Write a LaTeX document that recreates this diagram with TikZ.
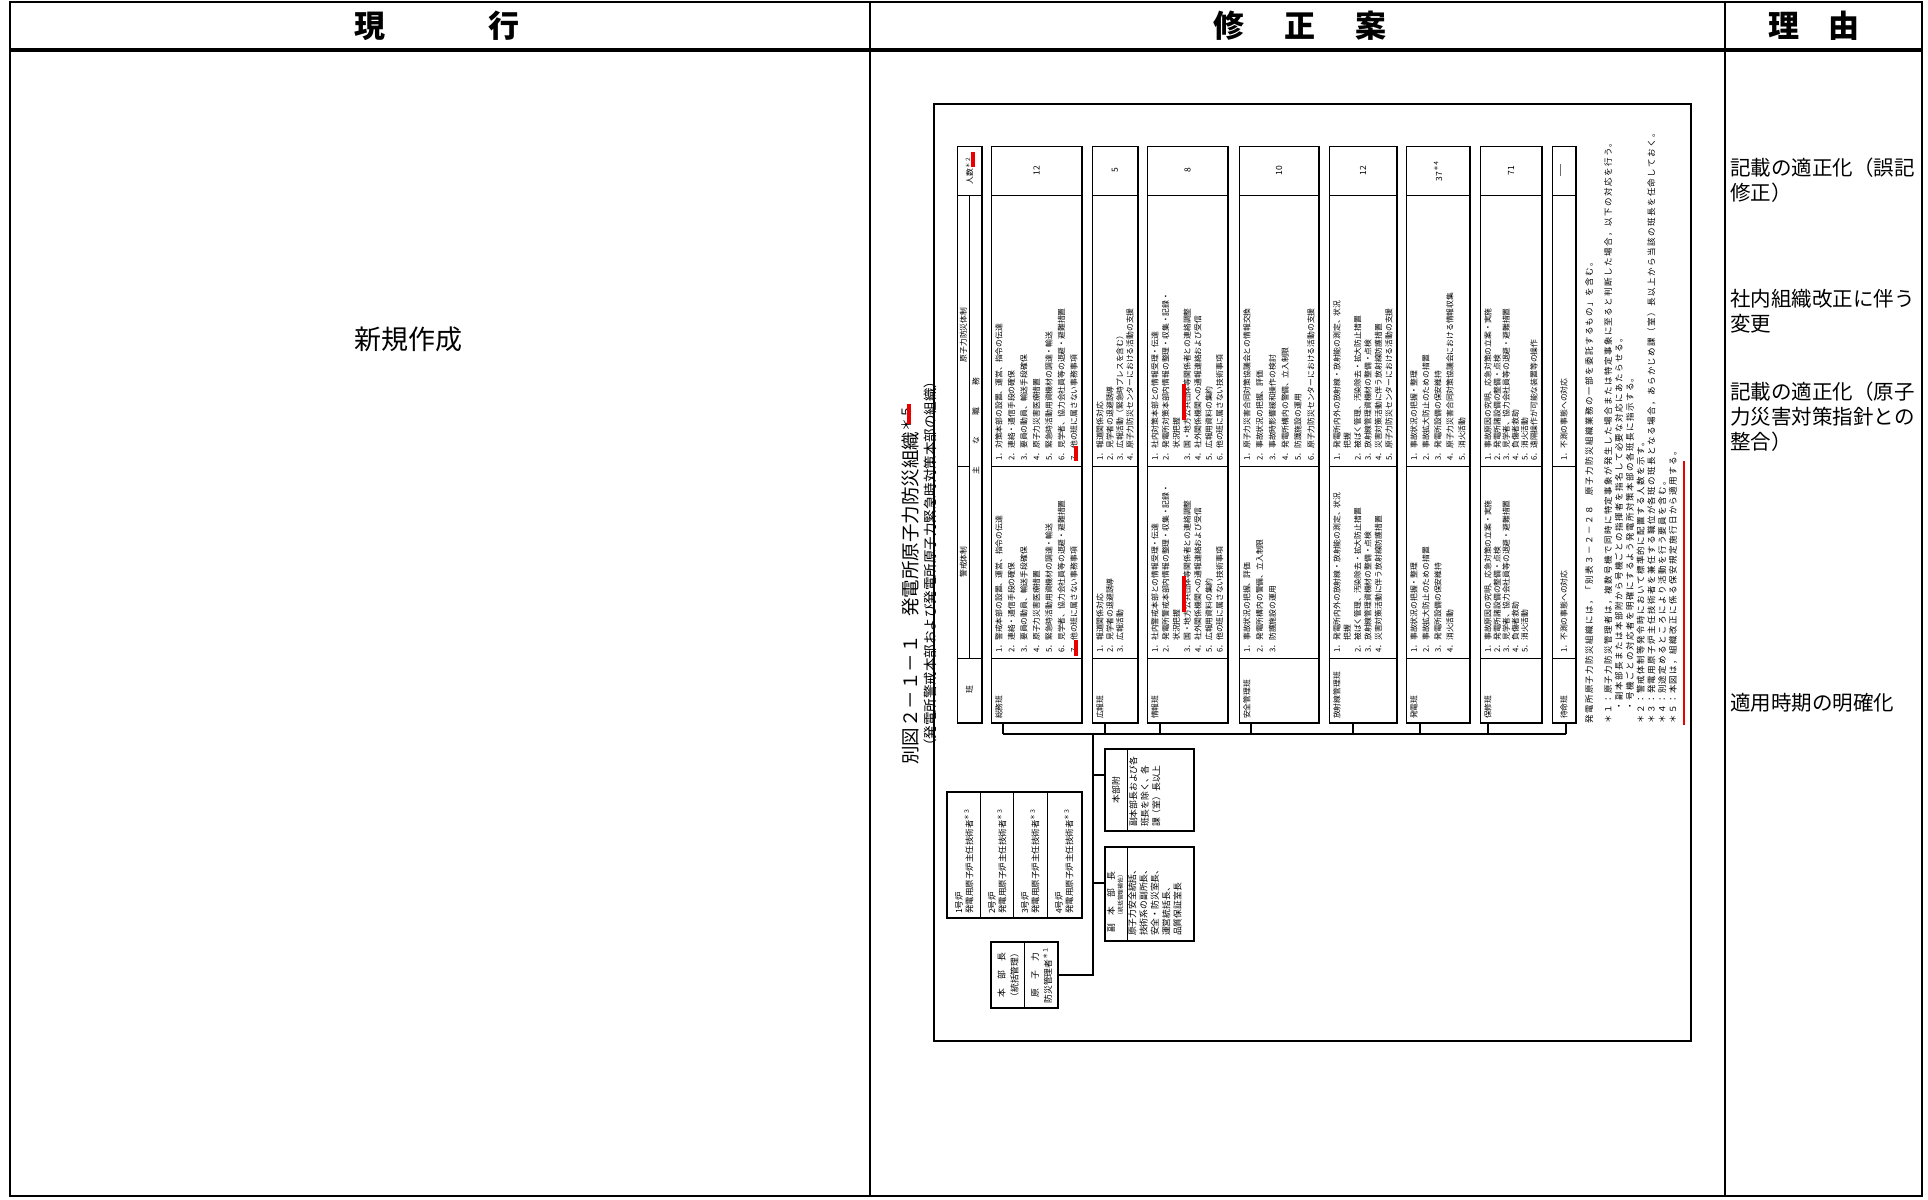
\documentclass[tikz,border=0pt]{standalone}
\usepackage{fontspec}
\setmainfont{Noto Sans CJK JP}
\newfontfamily\notefont{Noto Sans CJK JP}[LetterSpace=17]
\definecolor{mk}{RGB}{235,0,0}
\newcommand{\hanrow}[9]{%
  \node[rowbox, minimum width={(#3-#2)*1bp}, minimum height=577bp] (#1) at ({(#2+#3)/2},434.5) {};
  \draw[cellln] (#2,195) -- (#3,195) (#2,466) -- (#3,466) (#2,658) -- (#3,658);
  \draw[shadowln] (#1.north east) -- (#1.south east) -- (#1.south west);
  \node[tx, font=\fontsize{7.8bp}{#4bp}\selectfont] (#1-han) at ({#2+#9},719) {#5};
  \node[tx, font=\fontsize{7.8bp}{#4bp}\selectfont] (#1-kei) at ({#2+#9},653) {#6};
  \node[tx, font=\fontsize{7.8bp}{#4bp}\selectfont] (#1-gen) at ({#2+#9},461) {#7};
  \node[ctx] (#1-num) at ({(#2+#3)/2},170.5) {#8};
}
\begin{document}
\begin{tikzpicture}[x=1bp,y=-1bp,
  tx/.style={rotate=90, anchor=north west, inner sep=0pt, align=left, font=\fontsize{7.8bp}{10bp}\selectfont},
  ctx/.style={rotate=90, anchor=center, inner sep=0pt, align=center, font=\fontsize{8.5bp}{10bp}\selectfont},
  rowbox/.style={draw, line width=0.9bp, inner sep=0pt, outer sep=0pt},
  obox/.style={draw, line width=1.1bp, inner sep=0pt, outer sep=0pt},
  cellln/.style={line width=0.7bp},
  shadowln/.style={line width=1.8bp},
  conn/.style={line width=1.2bp},
  redmk/.style={draw=mk, line width=3.5bp},
  outer/.style={line width=1.8bp},
  hdtext/.style={font=\fontsize{31bp}{34bp}\selectfont\bfseries, inner sep=0pt},
  reason/.style={anchor=north west, inner sep=0pt, align=left, font=\fontsize{20.5bp}{25bp}\selectfont}
]
\useasboundingbox (0,0) rectangle (1928,1199);
\fill[white] (0,0) rectangle (1928,1199);

% ---------- outer comparison table ----------
\draw[outer] (10,2) rectangle (1922,1196);
\draw[line width=1.5bp] (870,2) -- (870,1196) (1725,2) -- (1725,1196);
\draw[line width=3.5bp] (10,50) -- (1922,50);
\node[hdtext] (h1) at (437,26) {現\hspace{103bp}行};
\node[hdtext] (h2) at (1300,26) {修\hspace{40bp}正\hspace{40bp}案};
\node[hdtext] (h3) at (1814,26) {理\hspace{30bp}由};
\node[font=\fontsize{27bp}{30bp}\selectfont, inner sep=0pt] (new) at (408,339) {新規作成};
\node[reason] (rs1) at (1730,158) {記載の適正化（誤記\\修正）};
\node[reason] (rs2) at (1730,289) {社内組織改正に伴う\\変更};
\node[reason] (rs3) at (1730,382) {記載の適正化（原子\\力災害対策指針との\\整合）};
\node[reason] (rs4) at (1730,693) {適用時期の明確化};

% ---------- inner (rotated) figure ----------
\draw[line width=1.1bp] (934,104) rectangle (1691,1041);
\node[rotate=90, anchor=west, inner sep=0pt, font=\fontsize{18.5bp}{20bp}\selectfont] (title) at (910,765) {別図２－１－１　発電所原子力防災組織\textsuperscript{＊５}};
\node[rotate=90, anchor=west, inner sep=0pt, font=\fontsize{13.5bp}{15bp}\selectfont] (subtitle) at (930,753) {（発電所警戒本部および発電所原子力緊急時対策本部の組織）};

% header row
\node[rowbox, minimum width=25bp, minimum height=577bp] (hd) at (969.5,434.5) {};
\draw[shadowln] (hd.north east) -- (hd.south east) -- (hd.south west);
\draw[cellln] (957,195) -- (982,195) (957,658) -- (982,658) (957,466) -- (969.5,466);
\draw[line width=1.5bp] (969.5,195) -- (969.5,658);
\node[ctx, font=\fontsize{7.8bp}{9bp}\selectfont] (hd-ninzu) at (969.5,170.5) {人数\textsuperscript{＊２}};
\node[ctx, font=\fontsize{7.8bp}{9bp}\selectfont] (hd-gen) at (963.5,335) {原子力防災体制};
\node[ctx, font=\fontsize{7.8bp}{9bp}\selectfont] (hd-kei) at (963.5,562) {警戒体制};
\node[ctx, font=\fontsize{7.8bp}{9bp}\selectfont] (hd-shoku) at (976,426) {主\hspace{22bp}な\hspace{22bp}職\hspace{22bp}務};
\node[ctx, font=\fontsize{7.8bp}{9bp}\selectfont] (hd-han) at (969.5,690) {班};

% team rows
\hanrow{r1}{991}{1082}{12.5}{総務班}
{1．警戒本部の設置、運営、指令の伝達\\2．連絡・通信手段の確保\\3．要員の動員、輸送手段確保\\4．原子力災害医療措置\\5．緊急時活動用資機材の調達・輸送\\6．見学者、協力会社員等の退避・避難措置\\7．他の班に属さない事務事項}
{1．対策本部の設置、運営、指令の伝達\\2．連絡・通信手段の確保\\3．要員の動員、輸送手段確保\\4．原子力災害医療措置\\5．緊急時活動用資機材の調達・輸送\\6．見学者、協力会社員等の退避・避難措置\\7．他の班に属さない事務事項}
{12}{4}
\hanrow{r2}{1092}{1138}{10}{広報班}
{1．報道関係対応\\2．見学者の退避誘導\\3．広報活動}
{1．報道関係対応\\2．見学者の退避誘導\\3．広報活動（緊急時プレスを含む）\\4．原子力防災センターにおける活動の支援}
{5}{4}
\hanrow{r3}{1147}{1228}{10.8}{情報班}
{1．社内警戒本部との情報受理・伝達\\2．発電所警戒本部内情報の整理・収集・記録・\\\hspace*{1.55em}状況把握\\3．国・地方公共団体等関係者との連絡調整\\4．社外関係機関への通報連絡および受信\\5．広報用資料の集約\\6．他の班に属さない技術事項}
{1．社内対策本部との情報受理・伝達\\2．発電所対策本部内情報の整理・収集・記録・\\\hspace*{1.55em}状況把握\\3．国・地方公共団体等関係者との連絡調整\\4．社外関係機関への通報連絡および受信\\5．広報用資料の集約\\6．他の班に属さない技術事項}
{8}{4}
\hanrow{r4}{1239}{1319}{12.8}{安全管理班}
{1．事故状況の把握、評価\\2．発電所構内の警備、立入制限\\3．防護施設の運用}
{1．原子力災害合同対策協議会との情報交換\\2．事故状況の把握、評価\\3．事故時影響緩和操作の検討\\4．発電所構内の警備、立入制限\\5．防護施設の運用\\6．原子力防災センターにおける活動の支援}
{10}{4}
\hanrow{r5}{1329}{1397}{10.4}{放射線管理班}
{1．発電所内外の放射線・放射能の測定、状況\\\hspace*{1.55em}把握\\2．被ばく管理、汚染除去・拡大防止措置\\3．放射線管理資機材の整備・点検\\4．災害対策活動に伴う放射線防護措置}
{1．発電所内外の放射線・放射能の測定、状況\\\hspace*{1.55em}把握\\2．被ばく管理、汚染除去・拡大防止措置\\3．放射線管理資機材の整備・点検\\4．災害対策活動に伴う放射線防護措置\\5．原子力防災センターにおける活動の支援}
{12}{4}
\hanrow{r6}{1406}{1470}{12}{発電班}
{1．事故状況の把握・整理\\2．事故拡大防止のための措置\\3．発電所設備の保安維持\\4．消火活動}
{1．事故状況の把握・整理\\2．事故拡大防止のための措置\\3．発電所設備の保安維持\\4．原子力災害合同対策協議会における情報収集\\5．消火活動}
{37\textsuperscript{＊４}}{4}
\hanrow{r7}{1480}{1542}{9.2}{保修班}
{1．事故原因の究明、応急対策の立案・実施\\2．発電所諸設備の整備・点検\\3．見学者、協力会社員等の退避・避難措置\\4．負傷者救助\\5．消火活動}
{1．事故原因の究明、応急対策の立案・実施\\2．発電所諸設備の整備・点検\\3．見学者、協力会社員等の退避・避難措置\\4．負傷者救助\\5．消火活動\\6．遠隔操作が可能な装置等の操作}
{71}{4}
\hanrow{r8}{1552}{1576}{10}{待命班}
{1．不測の事態への対応}
{1．不測の事態への対応}
{\fontsize{14bp}{15bp}\selectfont ―}{8}

% notes
\node[tx, font=\notefont\fontsize{8.5bp}{10.8bp}\selectfont] (note0) at (1585,724) {発電所原子力防災組織には，「別表３－２－２８　原子力防災組織業務の一部を委託するもの」を含む。};
\node[tx, font=\notefont\fontsize{8.5bp}{10.8bp}\selectfont] (note1) at (1604,724) {＊１：原子力防災管理者は，複数号機で同時に特定事象が発生した場合または特定事象に至ると判断した場合，以下の対応を行う。\\\hspace*{1.6em}・副本部長または本部附から号機ごとの指揮者を指名して必要な対応にあたらせる。\\\hspace*{1.6em}・号機ごとの対応者を明確にするよう発電所対策本部の各班長に指示する。\\＊２：警戒体制等発令時において標準的に配置する人数を示す。\\＊３：発電用原子炉主任技術者を兼任する職位が各班の班長となる場合，あらかじめ課（室）長以上から当該の班長を任命しておく。\\＊４：別途定めるところにより活動を行う要員を含む。\\＊５：本図は，組織改正に係る保安規定施行日から適用する。};

% organisation boxes
\node[obox, minimum width=67bp, minimum height=66bp] (hbc) at (1024.5,975) {};
\draw[cellln] (hbc.north) -- (hbc.south);
\node[ctx, font=\fontsize{8.8bp}{13bp}\selectfont] (hbc-a) at (1008,975) {本　部　長\\（統括管理）};
\node[ctx, font=\fontsize{8.8bp}{13bp}\selectfont] (hbc-b) at (1041.5,975) {原　子　力\\防災管理者\textsuperscript{＊１}};

\node[obox, minimum width=135bp, minimum height=126bp] (gr) at (1014.5,855) {};
\draw[cellln] (980,792) -- (980,918) (1013,792) -- (1013,918) (1047,792) -- (1047,918);
\node[tx, font=\fontsize{8.5bp}{10.5bp}\selectfont] (gr1) at (955,914) {1号炉\\発電用原子炉主任技術者\textsuperscript{＊３}};
\node[tx, font=\fontsize{8.5bp}{10.5bp}\selectfont] (gr2) at (988,914) {2号炉\\発電用原子炉主任技術者\textsuperscript{＊３}};
\node[tx, font=\fontsize{8.5bp}{10.5bp}\selectfont] (gr3) at (1021,914) {3号炉\\発電用原子炉主任技術者\textsuperscript{＊３}};
\node[tx, font=\fontsize{8.5bp}{10.5bp}\selectfont] (gr4) at (1055,914) {4号炉\\発電用原子炉主任技術者\textsuperscript{＊３}};

\node[obox, minimum width=89bp, minimum height=82bp] (hbf) at (1149.5,790) {};
\draw[cellln] (1127,749) -- (1127,831);
\node[ctx, font=\fontsize{8.8bp}{10bp}\selectfont] (hbf-a) at (1116,790) {本部附};
\node[tx, font=\fontsize{8.8bp}{11.5bp}\selectfont] (hbf-b) at (1129,827) {副本部長および各\\班長を除く、各\\課（室）長以上};

\node[obox, minimum width=89bp, minimum height=94bp] (fhb) at (1149.5,894) {};
\draw[cellln] (1127,847) -- (1127,941);
\node[ctx, font=\fontsize{8.8bp}{10bp}\selectfont] (fhb-a) at (1111,902) {副　本　部　長};
\node[ctx, font=\fontsize{5.8bp}{7bp}\selectfont] (fhb-b) at (1120.5,895) {（統括管理補佐）};
\node[tx, font=\fontsize{8.8bp}{11.3bp}\selectfont] (fhb-c) at (1128,936) {原子力安全統括、\\技術系の副所長、\\安全・防災室長、\\運営統括長、\\品質保証室長};

% connectors
\coordinate (bus) at (1093,734);
\path ([xshift=12bp]r1.south west) coordinate (s1);
\path ([xshift=13bp]r2.south west) coordinate (s2);
\path ([xshift=13bp]r3.south west) coordinate (s3);
\path ([xshift=12bp]r4.south west) coordinate (s4);
\path ([xshift=24bp]r5.south west) coordinate (s5);
\path ([xshift=14bp]r6.south west) coordinate (s6);
\path ([xshift=8bp]r7.south west) coordinate (s7);
\path ([xshift=14bp]r8.south west) coordinate (s8);
\foreach \s in {s1,s2,s3,s4,s5,s6,s7,s8} \draw[conn] (\s) -- (\s |- bus);
\draw[conn] (s1 |- bus) -- (s8 |- bus);
\draw[conn] (bus) -- (bus |- hbc.east) -- (hbc.east);
\path ([yshift=15bp]hbf.west) coordinate (b1);
\path ([yshift=11bp]fhb.west) coordinate (b2);
\draw[conn] (bus |- b1) -- (b1);
\draw[conn] (bus |- b2) -- (b2);

% red change marks
\draw[redmk] (909,404) -- (909,424);
\draw[redmk] (973,152) -- (973,167);
\draw[redmk] (1076,640) -- (1076,656);
\draw[redmk] (1076,446) -- (1076,461);
\draw[redmk] (1184,576) -- (1184,612);
\draw[redmk] (1184,384) -- (1184,420);
\draw[redmk, line width=2bp] (1684,461) -- (1684,725);
\end{tikzpicture}
\end{document}
